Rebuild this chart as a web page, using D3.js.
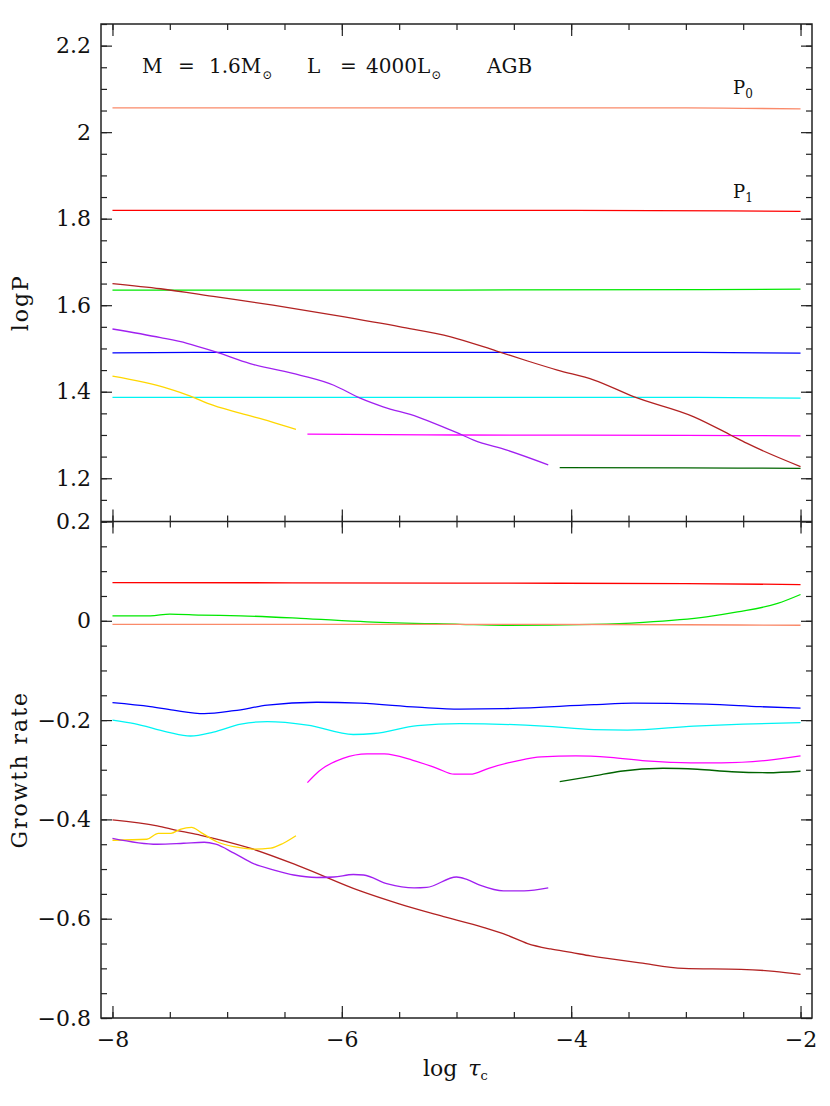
<!DOCTYPE html>
<html>
<head>
<meta charset="utf-8">
<script src="https://cdn.jsdelivr.net/npm/d3@7"></script>
<style>
  body { margin: 0; background: #fff; }
  svg text { font-family: "DejaVu Serif", serif; fill: #111; }
</style>
</head>
<body>
<div id="chart"></div>
<script>
// x axis: log tau_c
const xTicks = [-8, -6, -4, -2];
const topTicks = [1.2, 1.4, 1.6, 1.8, 2, 2.2];
const bottomTicks = [-0.8, -0.6, -0.4, -0.2, 0, 0.2];

// upper panel: log P
const p0Top = [[-8, 2.056], [-5, 2.056], [-3, 2.056], [-2.5, 2.055], [-2, 2.054]];
const p1Top = [[-8, 1.819], [-4, 1.819], [-2, 1.817]];
const greenTop = [[-8, 1.635], [-5, 1.635], [-2, 1.637]];
const blueTop = [[-8, 1.490], [-7, 1.491], [-5, 1.491], [-3, 1.491], [-2, 1.489]];
const cyanTop = [[-8, 1.387], [-7, 1.387], [-5, 1.387], [-3, 1.387], [-2, 1.385]];
const magentaTop = [[-6.3, 1.302], [-5, 1.300], [-3, 1.299], [-2, 1.298]];
const dkgreenTop = [[-4.1, 1.2245], [-3, 1.224], [-2, 1.223]];
const brownTop = [[-8, 1.650], [-7.58, 1.638], [-7.09, 1.619], [-6.6, 1.600], [-6.07, 1.577],
  [-5.49, 1.550], [-5.05, 1.527], [-4.65, 1.494], [-4.38, 1.471], [-4.12, 1.450], [-3.8, 1.427],
  [-3.45, 1.388], [-2.93, 1.342], [-2.61, 1.300], [-2.47, 1.281], [-2, 1.227]];
const purpleTop = [[-8, 1.545], [-7.58, 1.525], [-7.35, 1.512], [-7.1, 1.492], [-6.8, 1.465],
  [-6.36, 1.438], [-6.07, 1.415], [-5.84, 1.385], [-5.64, 1.365], [-5.34, 1.342], [-5.05, 1.311],
  [-4.95, 1.300], [-4.85, 1.288], [-4.56, 1.265], [-4.2, 1.231]];
const yellowTop = [[-8, 1.436], [-7.52, 1.408], [-7.32, 1.390], [-7.17, 1.373], [-6.88, 1.350],
  [-6.62, 1.331], [-6.4, 1.313]];

// lower panel: growth rate
const p1Bot = [[-8, 0.077], [-5, 0.076], [-3, 0.075], [-2, 0.073]];
const p0Bot = [[-8, -0.007], [-5, -0.007], [-3, -0.008], [-2, -0.009]];
const greenBot = [[-8, 0.010], [-7.67, 0.010], [-7.5, 0.0135], [-7.23, 0.0115], [-6.88, 0.010],
  [-6.36, 0.005], [-5.78, -0.002], [-4.97, -0.007], [-4.59, -0.009], [-3.81, -0.007],
  [-3.37, -0.003], [-2.82, 0.008], [-2.55, 0.018], [-2.2, 0.035], [-2, 0.053]];
const blueBot = [[-8, -0.165], [-7.67, -0.173], [-7.47, -0.180], [-7.2, -0.187], [-6.94, -0.181],
  [-6.65, -0.170], [-6.22, -0.164], [-5.84, -0.166], [-5.34, -0.174], [-4.97, -0.178],
  [-4.59, -0.177], [-3.8, -0.169], [-3.46, -0.166], [-2.82, -0.168], [-2.35, -0.173], [-2, -0.176]];
const cyanBot = [[-8, -0.200], [-7.81, -0.207], [-7.52, -0.224], [-7.32, -0.232], [-7.12, -0.224],
  [-6.88, -0.208], [-6.65, -0.203], [-6.3, -0.210], [-5.9, -0.229], [-5.72, -0.227],
  [-5.34, -0.211], [-4.97, -0.207], [-4.24, -0.212], [-3.8, -0.219], [-3.51, -0.220],
  [-2.93, -0.212], [-2.5, -0.208], [-2, -0.205]];
const magentaBot = [[-6.3, -0.326], [-6.2, -0.303], [-5.99, -0.277], [-5.78, -0.268], [-5.63, -0.268],
  [-5.38, -0.281], [-5.17, -0.297], [-5.02, -0.309], [-4.88, -0.309], [-4.72, -0.297],
  [-4.47, -0.282], [-4.26, -0.274], [-3.96, -0.272], [-3.66, -0.275], [-3.35, -0.282],
  [-2.96, -0.286], [-2.69, -0.286], [-2.29, -0.281], [-2, -0.272]];
const dkgreenBot = [[-4.1, -0.324], [-3.81, -0.313], [-3.57, -0.303], [-3.2, -0.297], [-2.9, -0.299],
  [-2.6, -0.304], [-2.29, -0.306], [-2, -0.303]];
const brownBot = [[-8, -0.401], [-7.61, -0.413], [-7.44, -0.422], [-7.23, -0.432], [-6.8, -0.458],
  [-6.36, -0.495], [-5.84, -0.544], [-5.5, -0.570], [-5.14, -0.594], [-4.76, -0.618],
  [-4.56, -0.633], [-4.38, -0.650], [-4.18, -0.661], [-4.0, -0.668], [-3.83, -0.675],
  [-3.4, -0.689], [-3.02, -0.700], [-2.52, -0.702], [-2.23, -0.706], [-2, -0.712]];
const purpleBot = [[-8, -0.438], [-7.61, -0.450], [-7.38, -0.448], [-7.2, -0.446], [-7.1, -0.450],
  [-6.94, -0.468], [-6.77, -0.489], [-6.59, -0.502], [-6.42, -0.512], [-6.22, -0.517],
  [-6.07, -0.516], [-5.9, -0.511], [-5.81, -0.512], [-5.6, -0.530], [-5.37, -0.538],
  [-5.26, -0.537], [-5.0, -0.516], [-4.91, -0.521], [-4.79, -0.533], [-4.59, -0.544],
  [-4.41, -0.544], [-4.2, -0.538]];
const yellowBot = [[-8, -0.442], [-7.7, -0.440], [-7.6, -0.428], [-7.49, -0.428], [-7.41, -0.420],
  [-7.31, -0.416], [-7.23, -0.426], [-7.09, -0.445], [-6.94, -0.455], [-6.77, -0.460],
  [-6.62, -0.458], [-6.51, -0.448], [-6.4, -0.433]];

const colors = {
  p0: "#fa8a6a", p1: "#ff0000", green: "#00e800", blue: "#0000ff", cyan: "#00f4f4",
  magenta: "#ff00ff", dkgreen: "#006400", brown: "#b22222", purple: "#a020f0", yellow: "#ffd700"
};

const topSeries = [
  [p0Top, colors.p0], [p1Top, colors.p1], [greenTop, colors.green], [blueTop, colors.blue],
  [cyanTop, colors.cyan], [magentaTop, colors.magenta], [dkgreenTop, colors.dkgreen],
  [brownTop, colors.brown], [purpleTop, colors.purple], [yellowTop, colors.yellow]
];
const bottomSeries = [
  [p1Bot, colors.p1], [greenBot, colors.green], [p0Bot, colors.p0], [blueBot, colors.blue],
  [cyanBot, colors.cyan], [magentaBot, colors.magenta], [dkgreenBot, colors.dkgreen],
  [brownBot, colors.brown], [yellowBot, colors.yellow], [purpleBot, colors.purple]
];

const W = 830, H = 1106;
const frameL = 101, frameR = 812, frameT = 24, frameM = 521.5, frameB = 1018;

const svg = d3.select("#chart").append("svg")
  .attr("width", W).attr("height", H)
  .attr("viewBox", [0, 0, W, H]);

const x = d3.scaleLinear().domain([-8.1, -1.9]).range([frameL, frameR]);
const yTop = d3.scaleLinear().domain([1.1, 2.25]).range([frameM, frameT]);
const yBot = d3.scaleLinear().domain([-0.8, 0.2]).range([frameB, frameM]);

const fmt = d => d3.format("~g")(d).replace("-", "\u2212");

function ticks(g) {
  g.select(".domain").remove();
  g.selectAll(".tick line").attr("stroke", "#222").attr("stroke-width", 1.2);
}

function panel(y, yMajor, yMinorStep, y0, y1) {
  const xMinor = d3.range(-8, -1.99, 0.5);
  const yMinor = d3.range(Math.ceil(y.domain()[0] / yMinorStep - 1e-6) * yMinorStep,
    y.domain()[1] + 1e-9, yMinorStep);

  // x ticks on lower and upper edge
  svg.append("g").attr("transform", `translate(0,${y0})`)
    .call(d3.axisBottom(x).tickValues(xMinor).tickSize(-6).tickFormat("")).call(ticks);
  svg.append("g").attr("transform", `translate(0,${y0})`)
    .call(d3.axisBottom(x).tickValues(xTicks).tickSize(-12).tickFormat("")).call(ticks);
  svg.append("g").attr("transform", `translate(0,${y1})`)
    .call(d3.axisTop(x).tickValues(xMinor).tickSize(-6).tickFormat("")).call(ticks);
  svg.append("g").attr("transform", `translate(0,${y1})`)
    .call(d3.axisTop(x).tickValues(xTicks).tickSize(-12).tickFormat("")).call(ticks);

  // y ticks on left and right edge
  svg.append("g").attr("transform", `translate(${frameL},0)`)
    .call(d3.axisLeft(y).tickValues(yMinor).tickSize(-6).tickFormat("")).call(ticks);
  svg.append("g").attr("transform", `translate(${frameL},0)`)
    .call(d3.axisLeft(y).tickValues(yMajor).tickSize(-11).tickPadding(10).tickFormat(fmt))
    .call(ticks)
    .call(g => g.selectAll("text").attr("font-size", 22).attr("fill", "#111")
      .style("font-family", "DejaVu Serif"));
  svg.append("g").attr("transform", `translate(${frameR},0)`)
    .call(d3.axisRight(y).tickValues(yMinor).tickSize(-6).tickFormat("")).call(ticks);
  svg.append("g").attr("transform", `translate(${frameR},0)`)
    .call(d3.axisRight(y).tickValues(yMajor).tickSize(-11).tickFormat("")).call(ticks);
}

panel(yTop, topTicks, 0.05, frameM, frameT);
panel(yBot, bottomTicks, 0.05, frameB, frameM);

// x tick labels under the lower panel
svg.append("g").attr("transform", `translate(0,${frameB})`)
  .call(d3.axisBottom(x).tickValues(xTicks).tickSize(0).tickPadding(13).tickFormat(fmt))
  .call(g => g.select(".domain").remove())
  .call(g => g.selectAll("text").attr("font-size", 22).attr("fill", "#111")
    .style("font-family", "DejaVu Serif"));

// curves
const lineTop = d3.line().x(d => x(d[0])).y(d => yTop(d[1])).curve(d3.curveMonotoneX);
const lineBot = d3.line().x(d => x(d[0])).y(d => yBot(d[1])).curve(d3.curveMonotoneX);

svg.append("g").selectAll("path").data(topSeries).join("path")
  .attr("d", d => lineTop(d[0]))
  .attr("fill", "none").attr("stroke", d => d[1]).attr("stroke-width", 1.3);

svg.append("g").selectAll("path").data(bottomSeries).join("path")
  .attr("d", d => lineBot(d[0]))
  .attr("fill", "none").attr("stroke", d => d[1]).attr("stroke-width", 1.3);

// frames
svg.append("rect").attr("x", frameL).attr("y", frameT)
  .attr("width", frameR - frameL).attr("height", frameB - frameT)
  .attr("fill", "none").attr("stroke", "#222").attr("stroke-width", 1.5);
svg.append("line").attr("x1", frameL).attr("x2", frameR).attr("y1", frameM).attr("y2", frameM)
  .attr("stroke", "#222").attr("stroke-width", 1.5);

// annotation: M = 1.6 Msun   L = 4000 Lsun   AGB
const ann = svg.append("g").attr("font-size", 20);
const sun = "\u2299";
const annParts = [
  [142, "M", false], [178, "=", false], [209, "1.6M", true],
  [307, "L", false], [340, "=", false], [366, "4000L", true], [487, "AGB", false]
];
ann.selectAll("text.part").data(annParts).join("text").attr("class", "part")
  .attr("x", d => d[0]).attr("y", 73).text(d => d[1])
  .each(function (d) {
    if (!d[2]) return;
    const end = d[0] + this.getComputedTextLength();
    ann.append("text").attr("x", end + 1).attr("y", 79).attr("font-size", 12).text(sun);
  });

// mode labels
function modeLabel(xPos, yPos, n) {
  const t = svg.append("text").attr("x", xPos).attr("y", yPos).attr("font-size", 18);
  t.append("tspan").text("P");
  t.append("tspan").attr("font-size", 12).attr("dy", 4).text(n);
}
modeLabel(733, 94, "0");
modeLabel(733, 198, "1");

// axis titles
svg.append("text").attr("transform", `translate(28,${(frameT + frameM) / 2 + 30}) rotate(-90)`)
  .attr("text-anchor", "middle").attr("font-size", 22).attr("letter-spacing", 2).text("logP");
svg.append("text").attr("transform", `translate(27,${(frameM + frameB) / 2}) rotate(-90)`)
  .attr("text-anchor", "middle").attr("font-size", 22).attr("letter-spacing", 2).text("Growth rate");

const xt = svg.append("text").attr("x", 423).attr("y", 1076).attr("font-size", 22);
xt.append("tspan").text("log ");
xt.append("tspan").attr("font-style", "italic").attr("dx", 4).text("\u03c4");
xt.append("tspan").attr("font-size", 13).attr("dy", 4).text("c");
</script>
</body>
</html>
